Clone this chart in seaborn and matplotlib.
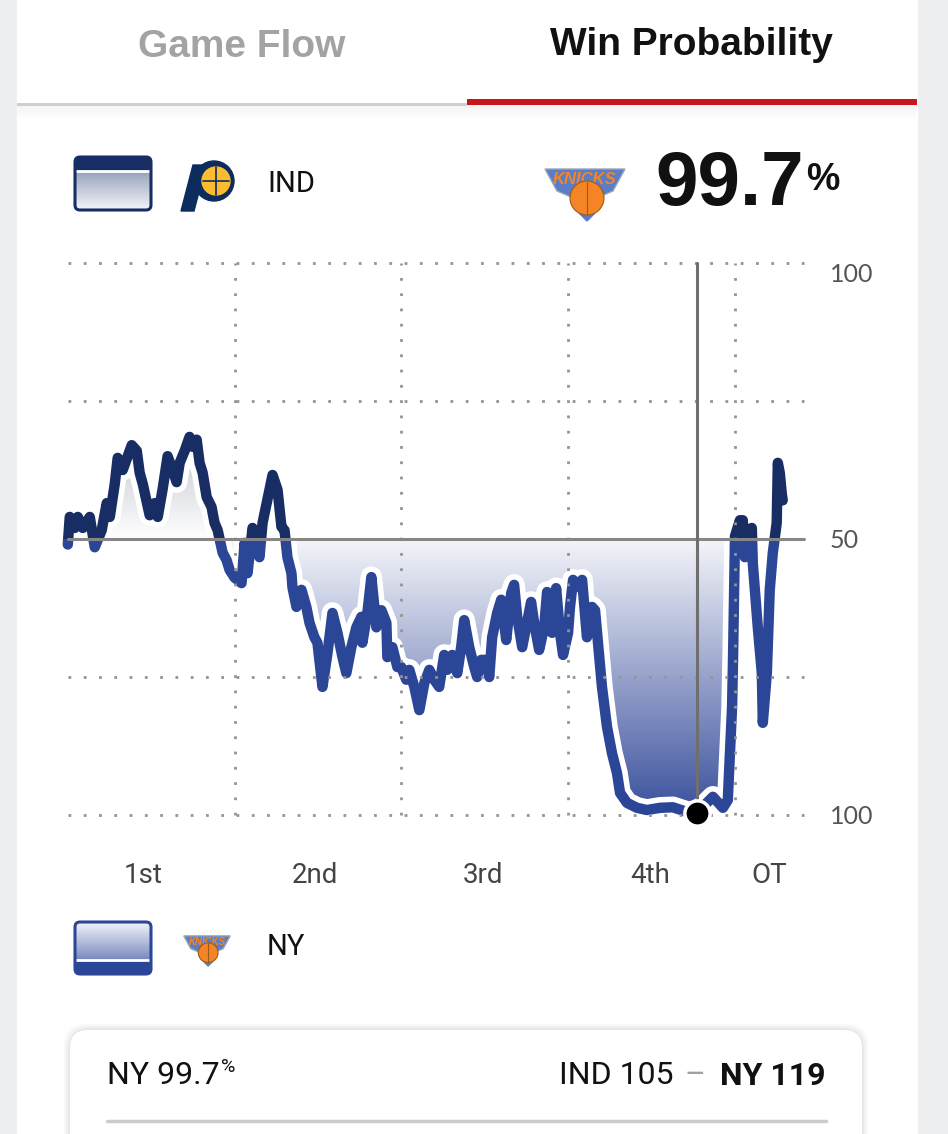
import numpy as np
import pandas as pd
import matplotlib
matplotlib.use("Agg")
import matplotlib.pyplot as plt
from matplotlib import font_manager
from matplotlib.patches import FancyBboxPatch, Rectangle, Circle, Polygon
from matplotlib.colors import LinearSegmentedColormap
import seaborn as sns

# elapsed game time (minutes, 48 regulation + 5 OT) and Indiana win probability (%)
time_min = [0.0, 0.14, 0.50, 0.72, 1.08, 1.58, 1.94, 2.44, 2.80, 3.02, 3.38, 3.59, 3.95,
            4.60, 4.96, 5.17, 5.39, 5.89, 6.25, 6.47, 6.82, 7.18, 7.54, 7.83, 8.05, 8.41,
            8.76, 8.98, 9.27, 9.48, 9.70, 9.99, 10.34, 10.56, 10.78, 11.14, 11.42, 11.64,
            12.0, 12.5, 12.72, 12.93, 13.29, 13.79, 14.01, 14.51, 14.73, 15.09, 15.37,
            15.59, 15.80, 16.09, 16.16, 16.45, 16.81, 17.16, 17.39, 17.74, 17.96, 18.32,
            18.68, 19.04, 19.40, 19.76, 20.04, 20.40, 20.76, 21.12, 21.19, 21.55, 21.84,
            22.20, 22.56, 22.92, 22.99, 23.35, 23.71, 23.99, 24.35, 24.57, 24.93, 25.29,
            25.65, 26.01, 26.36, 26.72, 27.08, 27.30, 27.66, 28.02, 28.30, 28.52, 28.88,
            29.24, 29.45, 29.74, 30.10, 30.32, 30.53, 30.89, 31.18, 31.54, 31.90, 32.11,
            32.33, 32.69, 32.97, 33.33, 33.55, 33.91, 34.27, 34.48, 34.84, 35.13, 35.41,
            35.63, 35.99, 36.13, 36.35, 36.71, 37.00, 37.35, 37.71, 37.93, 38.14, 38.43,
            38.79, 39.15, 39.51, 39.73, 40.23, 40.95, 41.66, 42.60, 43.53, 44.25, 44.97,
            45.69, 46.41, 47.13, 47.48, 47.79, 47.86, 48.0, 48.35, 48.56, 48.71, 48.92,
            49.21, 49.28, 49.64, 49.93, 50.00, 50.29, 50.50, 50.72, 51.00, 51.08, 51.22,
            51.36, 51.43]
ind_prob = [49, 54, 52, 54, 52, 54, 48.5, 51.6, 56.5, 54, 60, 64.7, 62.5,
            67, 66, 62, 60, 54.3, 56.5, 54, 59, 65, 62.5, 60.3, 63.8, 66,
            68.5, 66.7, 68, 63.8, 62, 57.6, 55.8, 52.9, 51.6, 47.5, 46.2, 44.4,
            43, 42, 49.3, 43.8, 52, 46.7, 52.9, 58.9, 61.6, 58.9, 52.2,
            51.6, 46.7, 43.8, 41.3, 37.7, 40.8, 37.7, 34.8, 32.2, 31.2, 23.2,
            29.3, 36.6, 33, 28.6, 25.7, 30.4, 34, 35.9, 31.2, 36.6, 43.1,
            34, 37.1, 34.8, 28.6, 30.4, 26.8, 26.8, 24.5, 26.3, 23.2, 19,
            23.9, 26.3, 24.5, 23.2, 29, 26.3, 29, 25.7, 30.4, 35.3, 30.4,
            26.8, 25, 28.1, 28.1, 25, 32.2, 36.6, 39, 31.7, 40.2, 41.7,
            35.9, 30.4, 34, 38.6, 34.8, 29.9, 34, 40.4, 33, 41.1, 33,
            29, 33, 37.7, 42.6, 41.3, 42.6, 32.2, 37.7, 37.1, 31.2, 23.2,
            16, 11.2, 7.6, 4, 2.2, 1.3, 0.9, 1.3, 1.4, 0.8, 0.3,
            1.5, 3.3, 1.3, 2.7, 19.6, 28.6, 50.5, 53.4, 53.4, 46.7, 51.6,
            52, 45.6, 34, 25.7, 16.7, 25.7, 40.8, 47.5, 52.9, 63.8, 62,
            58.3, 57]

quarter_ends = [12, 24, 36, 48]
quarter_label_pos = [5.4, 17.8, 29.9, 41.9, 50.5]
quarter_labels = ["1st", "2nd", "3rd", "4th", "OT"]
prob_ticks = [0, 50, 100]
prob_labels = ["100", "50", "100"]
dotted_levels = [0, 25, 75, 100]
hover_min = 45.27
hover_prob = 0.3
regulation = 48.0
game_end = 53.0

NAVY = "#172d63"
ROYAL = "#2b4696"

sns.set_theme(style="white")
names = {f.name for f in font_manager.fontManager.ttflist}
NARROW = "Liberation Sans Narrow" if "Liberation Sans Narrow" in names else "Roboto"
BOLD = "Liberation Sans"
plt.rcParams["font.family"] = ["DejaVu Sans"]

df = pd.DataFrame({"t": time_min, "p": ind_prob})
reg = df[df["t"] <= regulation]

W, H = 948, 1134
fig = plt.figure(figsize=(W / 100, H / 100), dpi=100, facecolor="#eceef0")

# ---- background / decoration layer in pixel coordinates
bg = fig.add_axes([0, 0, 1, 1], zorder=0)
bg.set_xlim(0, W)
bg.set_ylim(H, 0)
bg.axis("off")
bg.add_patch(Rectangle((17, 0), 900, H, color="white", zorder=0))
for i in range(10):
    bg.add_patch(Rectangle((17, 104 + i * 1.5), 900, 1.5, color="#000000", alpha=0.045 * (1 - i / 10), lw=0, zorder=1))
bg.add_patch(Rectangle((17, 103), 450, 3, color="#cfcfcf", lw=0, zorder=2))
bg.add_patch(Rectangle((467, 99), 450, 6, color="#c8161d", lw=0, zorder=2))
bg.text(242, 47, "Game Flow", fontsize=28, fontweight="bold", color="#a3a3a3", family=BOLD, ha="center", va="center")
bg.text(691, 45, "Win Probability", fontsize=28, fontweight="bold", color="#111111", family=BOLD, ha="center", va="center")


def legend_box(x0, y0, w, h, band_top, c_top, c_bot, band_color):
    grad = np.linspace(0, 1, 100).reshape(-1, 1)
    cmap = LinearSegmentedColormap.from_list("g", [c_top, c_bot])
    im = bg.imshow(grad, extent=[x0, x0 + w, y0 + h, y0], cmap=cmap, aspect="auto", zorder=3)
    box = FancyBboxPatch((x0, y0), w, h, boxstyle="round,pad=0,rounding_size=5",
                         facecolor="none", edgecolor=band_color, lw=2.2, zorder=5)
    bg.add_patch(box)
    im.set_clip_path(box)
    bh = 14
    by = y0 if band_top else y0 + h - bh
    band = Rectangle((x0, by), w, bh, color=band_color, lw=0, zorder=4)
    bg.add_patch(band)
    band.set_clip_path(box)
    sep = by + bh if band_top else by
    bg.plot([x0, x0 + w], [sep, sep], color="white", lw=2, zorder=4.5)
    bg.set_xlim(0, W)
    bg.set_ylim(H, 0)


def pacers_logo(cx, cy):
    bg.add_patch(Polygon([(cx - 27, cy + 26), (cx - 14, cy + 26), (cx - 2, cy - 20), (cx - 15, cy - 20)],
                         color="#0c2c5e", zorder=4))
    bg.add_patch(Circle((cx + 6, cy - 4), 20, color="#0c2c5e", zorder=4))
    bg.add_patch(Circle((cx + 8, cy - 4), 14, color="#fdbb30", zorder=5))
    bg.plot([cx - 5, cx + 21], [cy - 4, cy - 4], color="#0c2c5e", lw=1.2, zorder=6)
    bg.plot([cx + 8, cx + 8], [cy - 18, cy + 10], color="#0c2c5e", lw=1.2, zorder=6)


def knicks_logo(cx, cy, s):
    bg.add_patch(Polygon([(cx - 40 * s, cy - 14 * s), (cx + 40 * s, cy - 14 * s), (cx + 28 * s, cy + 8 * s),
                          (cx, cy + 20 * s), (cx - 28 * s, cy + 8 * s)],
                         facecolor="#5b7dc6", edgecolor="#9aa6b8", lw=1, zorder=4))
    bg.text(cx, cy - 4 * s, "KNICKS", fontsize=12 * s, fontweight="bold", style="italic",
            color="#f58426", family=BOLD, ha="center", va="center", zorder=5)
    bg.add_patch(Circle((cx + 2 * s, cy + 15 * s), 17 * s, facecolor="#f58426", edgecolor="#9a5a1a", lw=0.8, zorder=6))
    bg.plot([cx + 2 * s, cx + 2 * s], [cy - 1 * s, cy + 31 * s], color="#9a5a1a", lw=0.8, zorder=7)
    bg.add_patch(Polygon([(cx - 6 * s, cy + 30 * s), (cx + 10 * s, cy + 30 * s), (cx + 2 * s, cy + 38 * s)],
                         color="#5b7dc6", zorder=5))


legend_box(75, 157, 76, 53, True, "#7584a6", "#f3f5f9", NAVY)
pacers_logo(208, 185)
bg.text(267, 184, "IND", fontsize=21, color="#111111", family=NARROW, ha="left", va="center")

knicks_logo(585, 183, 1.0)
bg.text(655, 186, "99.7", fontsize=55, fontweight="bold", color="#111111", family=BOLD, ha="left", va="center")
bg.text(806, 180, "%", fontsize=27, fontweight="bold", color="#111111", family=BOLD, ha="left", va="center")

legend_box(75, 922, 76, 52, False, "#f3f5fa", "#4b60a6", ROYAL)
knicks_logo(207, 944, 0.58)
bg.text(267, 947, "NY", fontsize=21, color="#111111", family=NARROW, ha="left", va="center")

# summary card
for i, a in enumerate([0.025, 0.03, 0.04]):
    bg.add_patch(FancyBboxPatch((70 - 6 + i * 2, 1030 - 6 + i * 2), 792 + 12 - i * 4, 200,
                                boxstyle="round,pad=0,rounding_size=22", color="#000000", alpha=a, lw=0, zorder=2))
bg.add_patch(FancyBboxPatch((70, 1030), 792, 200, boxstyle="round,pad=0,rounding_size=18",
                            color="white", lw=0, zorder=3))
bg.text(107, 1076, "NY 99.7", fontsize=23, color="#111111", family=NARROW, ha="left", va="center", zorder=4)
bg.text(221, 1067, "%", fontsize=14, color="#111111", family=NARROW, ha="left", va="center", zorder=4)
bg.text(826, 1076, "NY 119", fontsize=23, fontweight="bold", color="#111111", family=NARROW, ha="right", va="center", zorder=4)
bg.text(695, 1076, "–", fontsize=23, color="#a0a0a0", family=NARROW, ha="center", va="center", zorder=4)
bg.text(674, 1076, "IND 105", fontsize=23, color="#111111", family=NARROW, ha="right", va="center", zorder=4)
bg.plot([107, 826], [1121, 1121], color="#cccccc", lw=2.5, zorder=4)

# ---- win probability chart
ax = fig.add_axes([67.8 / W, 1 - 815 / H, (804.5 - 67.8) / W, 552 / H], zorder=1)
ax.set_facecolor("none")

grad = np.linspace(0, 1, 256).reshape(-1, 1)
cmap_up = LinearSegmentedColormap.from_list("up", ["#ffffff", "#57617c"])
cmap_dn = LinearSegmentedColormap.from_list("dn", ["#3a509c", "#f4f5fa"])

upper = ax.fill_between(reg["t"], np.maximum(reg["p"], 50), 50, facecolor="none", edgecolor="none")
im_up = ax.imshow(grad, extent=[0, game_end, 50, 100], origin="lower", cmap=cmap_up, aspect="auto", zorder=1)
im_up.set_clip_path(upper.get_paths()[0], transform=ax.transData)
lower = ax.fill_between(reg["t"], np.minimum(reg["p"], 50), 50, facecolor="none", edgecolor="none")
im_dn = ax.imshow(grad, extent=[0, game_end, 0, 50], origin="lower", cmap=cmap_dn, aspect="auto", zorder=1)
im_dn.set_clip_path(lower.get_paths()[0], transform=ax.transData)

# white halo around regulation part of the curve
sns.lineplot(data=reg, x="t", y="p", ax=ax, color="white", linewidth=15.5, sort=False,
             estimator=None, zorder=2)
halo = ax.lines[-1]
halo.set_solid_joinstyle("round")
halo.set_solid_capstyle("round")
halo.set_clip_on(False)

for color, rect in [(NAVY, Rectangle((-5, 50), 70, 60, transform=ax.transData)),
                    (ROYAL, Rectangle((-5, -10), 70, 60, transform=ax.transData))]:
    sns.lineplot(data=df, x="t", y="p", ax=ax, color=color, linewidth=7.5, sort=False,
                 estimator=None, zorder=3)
    ln = ax.lines[-1]
    ln.set_solid_joinstyle("round")
    ln.set_solid_capstyle("round")
    ln.set_clip_path(rect)

# grid drawn over the curve
for lv in dotted_levels:
    ax.plot([0, game_end], [lv, lv], color="#949494", lw=2, ls=(0, (1, 4.5)), zorder=4, clip_on=False)
for q in quarter_ends:
    ax.plot([q, q], [0, 100], color="#949494", lw=2, ls=(0, (1, 4.5)), zorder=4, clip_on=False)
ax.plot([0, game_end], [50, 50], color="#868686", lw=2.2, zorder=4, clip_on=False)

# hover marker
ax.plot([hover_min, hover_min], [hover_prob, 100], color="#6f6f6f", lw=2.2, zorder=5, clip_on=False)
ax.scatter([hover_min], [hover_prob], s=330, color="black", edgecolor="white", linewidth=2.5, zorder=6, clip_on=False)

ax.set_xlim(0, game_end)
ax.set_ylim(0, 100)
sns.despine(ax=ax, left=True, bottom=True)
ax.grid(False)
ax.yaxis.tick_right()
ax.set_yticks(prob_ticks)
ax.set_yticklabels(prob_labels, fontsize=18, color="#555555", family="Lato")
ax.get_yticklabels()[-1].set_va("top")
ax.set_xticks(quarter_label_pos)
ax.set_xticklabels(quarter_labels, fontsize=20, color="#444444", family=NARROW)
ax.tick_params(axis="y", length=0, pad=18)
ax.tick_params(axis="x", length=0, pad=34)
ax.set_xlabel("")
ax.set_ylabel("")

fig.savefig("out.png", dpi=100, facecolor=fig.get_facecolor())
